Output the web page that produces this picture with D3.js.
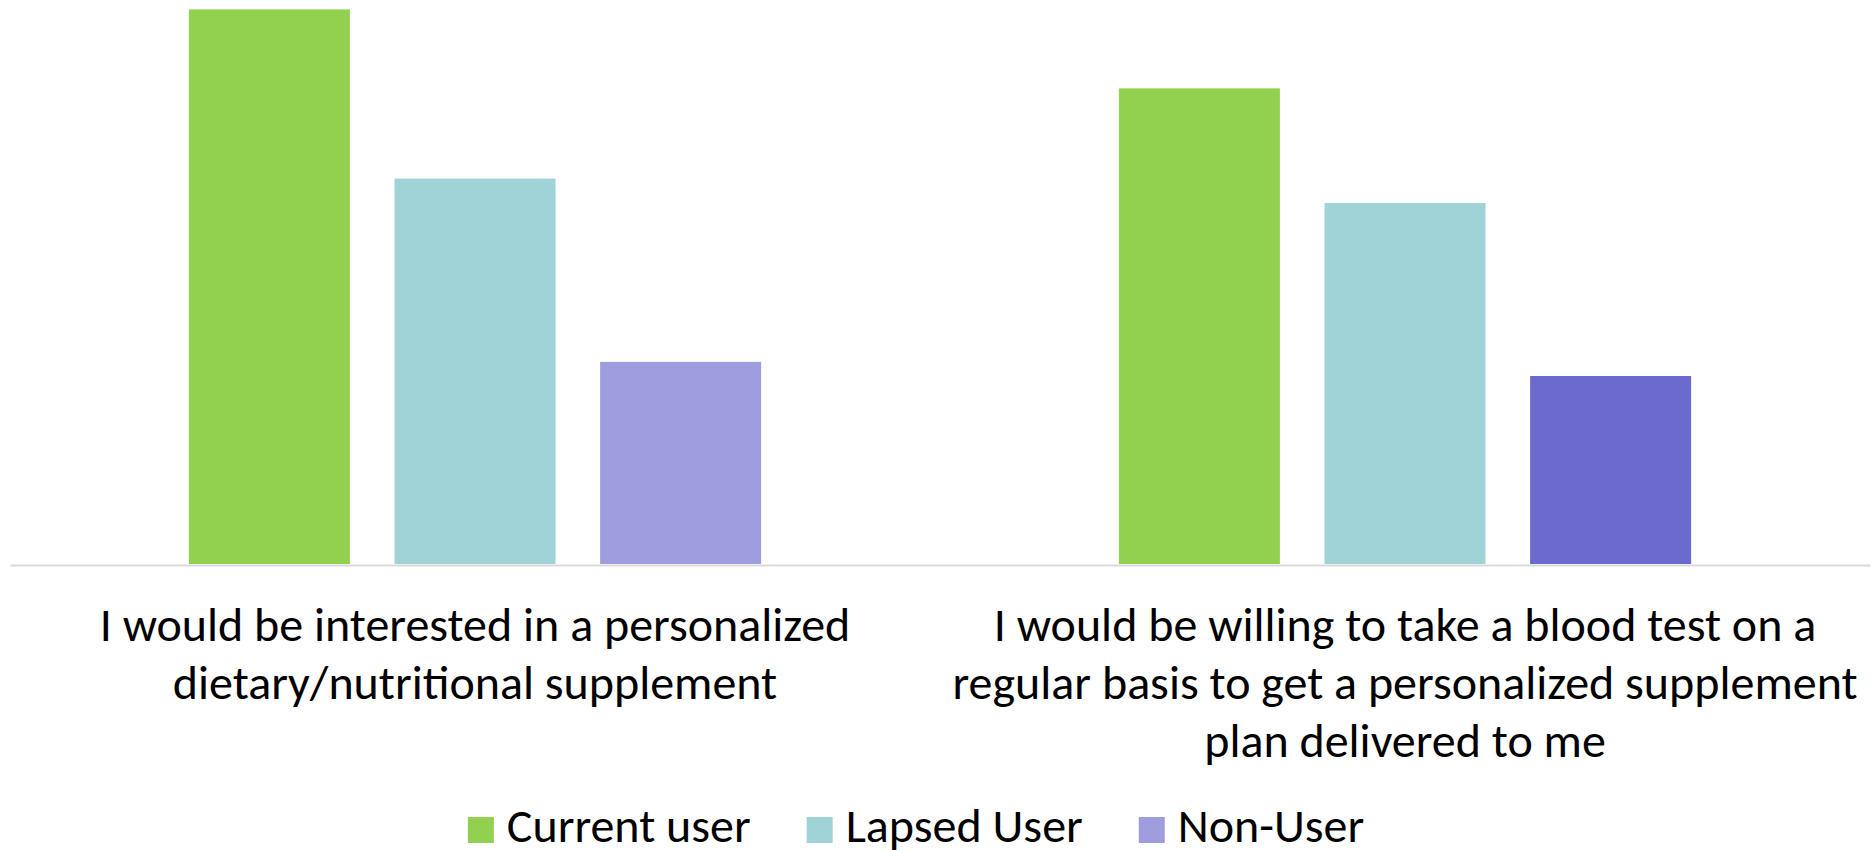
<!DOCTYPE html>
<html>
<head>
<meta charset="utf-8">
<script src="https://cdn.jsdelivr.net/npm/d3@7"></script>
<style>
  html, body { margin: 0; padding: 0; background: #fff; }
  svg { display: block; }
  text { font-family: "Carlito", "Lato", "Open Sans", sans-serif; fill: #000; }
</style>
</head>
<body>
<div id="chart"></div>
<script>
// categories (label lines as they wrap in the original)
const categories = ["interested", "bloodTest"];
const categoryLines = [
    ["I would be interested in a personalized", "dietary/nutritional supplement"],
    ["I would be willing to take a blood test on a", "regular basis to get a personalized supplement", "plan delivered to me"]
];
const seriesNames = ["Current user", "Lapsed User", "Non-User"];

// share of respondents agreeing, per series, one value per category
const currentUser = [0.59, 0.506];
const lapsedUser = [0.41, 0.384];
const nonUser = [0.215, 0.20];

const width = 1873, height = 850;
const baseline = 564;

const colors = {
    "Current user": "#92d050",
    "Lapsed User": "#a0d3d8",
    "Non-User": "#9f9dde"
};
// the second Non-User bar is drawn highlighted in the original
const highlightColor = "#6b6bce";

const seriesValues = [currentUser, lapsedUser, nonUser];
const rows = categories.map((c, i) => ({
    category: c,
    values: seriesNames.map((s, j) => ({ series: s, value: seriesValues[j][i], ci: i }))
}));

const svg = d3.select("#chart")
    .append("svg")
    .attr("width", width)
    .attr("height", height);

const x0 = d3.scaleBand()
    .domain(categories)
    .range([10, 1870])
    .padding(0);

const x1 = d3.scaleBand()
    .domain(seriesNames)
    .range([0, x0.bandwidth()])
    .paddingInner(0.217)
    .paddingOuter(0.87);

const y = d3.scaleLinear()
    .domain([0, 0.6])
    .range([baseline, 0]);

// bars
svg.append("g")
    .selectAll("g")
    .data(rows)
    .join("g")
    .attr("transform", d => `translate(${x0(d.category)},0)`)
    .selectAll("rect")
    .data(d => d.values)
    .join("rect")
    .attr("x", d => x1(d.series))
    .attr("y", d => y(d.value))
    .attr("width", x1.bandwidth())
    .attr("height", d => baseline - y(d.value))
    .attr("fill", d => (d.series === "Non-User" && d.ci === 1) ? highlightColor : colors[d.series]);

// category axis line
const axis = svg.append("g")
    .attr("transform", `translate(0,${baseline + 1})`)
    .call(d3.axisBottom(x0).tickSize(0).tickSizeOuter(0).tickFormat(""));
axis.select(".domain")
    .attr("stroke", "#d9d9d9")
    .attr("stroke-width", 2);

// category labels
const labels = svg.append("g")
    .selectAll("text")
    .data(categories)
    .join("text")
    .attr("text-anchor", "middle")
    .attr("font-size", 48)
    .attr("x", d => x0(d) + x0.bandwidth() / 2)
    .attr("y", 641);
labels.selectAll("tspan")
    .data((d, i) => categoryLines[i])
    .join("tspan")
    .attr("x", function () { return this.parentNode.getAttribute("x"); })
    .attr("dy", (d, i) => i === 0 ? 0 : 58)
    .text(d => d);

// legend
const legend = svg.append("g");
const items = legend.selectAll("g")
    .data(seriesNames)
    .join("g");
items.append("rect")
    .attr("width", 26)
    .attr("height", 26)
    .attr("y", 817)
    .attr("fill", d => colors[d]);
items.append("text")
    .attr("x", 39)
    .attr("y", 842)
    .attr("font-size", 48)
    .text(d => d);

let offset = 0;
items.each(function () {
    const g = d3.select(this);
    g.attr("transform", `translate(${offset},0)`);
    offset += 39 + g.select("text").node().getComputedTextLength() + 56;
});
const legendWidth = offset - 56;
legend.attr("transform", `translate(${916 - legendWidth / 2},0)`);
</script>
</body>
</html>
